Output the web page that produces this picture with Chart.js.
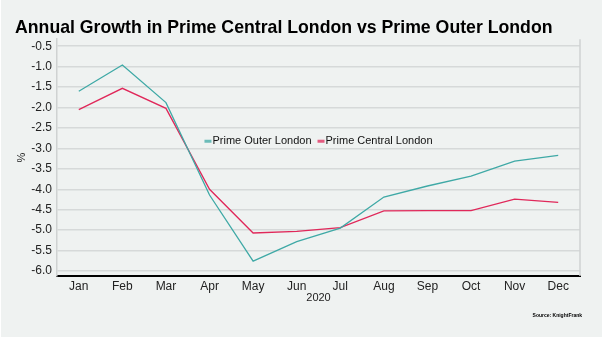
<!DOCTYPE html>
<html lang="en">
<head>
<meta charset="UTF-8">
<title>Annual Growth in Prime Central London vs Prime Outer London</title>
<script src="https://cdn.jsdelivr.net/npm/chart.js"></script>
<style>
  html, body { margin: 0; padding: 0; background: #fff; }
  #wrap { width: 602px; height: 339px; }
</style>
</head>
<body>
<div id="wrap"><canvas id="growthChart" width="602" height="339"></canvas></div>
<script>
// monthly annual growth, %
const months = ["Jan", "Feb", "Mar", "Apr", "May", "Jun", "Jul", "Aug", "Sep", "Oct", "Nov", "Dec"];
const outerLondon = [-1.60, -0.96, -1.88, -4.14, -5.76, -5.28, -4.95, -4.19, -3.92, -3.68, -3.31, -3.17];
const centralLondon = [-2.05, -1.53, -2.02, -4.00, -5.07, -5.03, -4.94, -4.53, -4.52, -4.52, -4.24, -4.32];
const yTicks = [-0.5, -1.0, -1.5, -2.0, -2.5, -3.0, -3.5, -4.0, -4.5, -5.0, -5.5, -6.0];

const FONT = "'Liberation Sans', Arial, sans-serif";

// panel background, legend in the middle of the plot, right border and source note
const extras = {
  id: "extras",
  beforeDraw(chart) {
    const ctx = chart.ctx;
    ctx.save();
    ctx.fillStyle = "#eff2f1";
    ctx.fillRect(1, 0, chart.width - 1, chart.height - 2);
    ctx.restore();
  },
  afterDraw(chart) {
    const ctx = chart.ctx;
    const a = chart.chartArea;
    ctx.save();

    ctx.strokeStyle = "#cfd2d2";
    ctx.lineWidth = 1.5;
    ctx.beginPath();
    ctx.moveTo(a.right, a.top);
    ctx.lineTo(a.right, a.bottom);
    ctx.stroke();

    ctx.font = "11px " + FONT;
    ctx.textBaseline = "middle";
    const items = chart.data.datasets.map(d => ({ label: d.label, color: d.borderColor }));
    const gap = 6, mark = 8;
    const widths = items.map(it => mark + ctx.measureText(it.label).width);
    const total = widths.reduce((s, w) => s + w, 0) + gap * (items.length - 1);
    let x = (a.left + a.right) / 2 - total / 2;
    const y = a.top + 102;
    items.forEach((it, i) => {
      ctx.strokeStyle = it.color;
      ctx.globalAlpha = 0.75;
      ctx.lineWidth = 3;
      ctx.beginPath();
      ctx.moveTo(x, y);
      ctx.lineTo(x + mark - 1, y);
      ctx.stroke();
      ctx.globalAlpha = 1;
      ctx.fillStyle = "#111";
      ctx.textAlign = "left";
      ctx.fillText(it.label, x + mark, y);
      x += widths[i] + gap;
    });

    ctx.font = "bold 5px " + FONT;
    ctx.fillStyle = "#000";
    ctx.textAlign = "right";
    ctx.fillText("Source: KnightFrank", 582, 316);
    ctx.restore();
  }
};

new Chart(document.getElementById("growthChart"), {
  type: "line",
  data: {
    labels: months,
    datasets: [
      {
        label: "Prime Outer London",
        data: outerLondon,
        borderColor: "#3fa9a6",
        borderWidth: 1.3,
        pointRadius: 0,
        tension: 0
      },
      {
        label: "Prime Central London",
        data: centralLondon,
        borderColor: "#e0285a",
        borderWidth: 1.3,
        pointRadius: 0,
        tension: 0
      }
    ]
  },
  options: {
    responsive: false,
    animation: false,
    layout: { padding: { left: 15, right: 22, top: 0, bottom: 34 } },
    plugins: {
      legend: { display: false },
      tooltip: { enabled: false },
      title: {
        display: true,
        text: "Annual Growth in Prime Central London vs Prime Outer London",
        align: "start",
        color: "#000",
        font: { family: FONT, size: 17.7, weight: "bold" },
        padding: { top: 17, bottom: 1 }
      }
    },
    scales: {
      x: {
        offset: true,
        grid: { display: false, drawTicks: false },
        border: { display: true, color: "#000", width: 2 },
        ticks: { color: "#222", font: { family: FONT, size: 12 }, padding: 3, maxRotation: 0 },
        title: { display: true, text: "2020", color: "#222", font: { family: FONT, size: 11 }, padding: 0 },
        afterFit(scale) { scale.height = 29; }
      },
      y: {
        min: -6.122,
        max: -0.329,
        grid: { color: "#d6d9d9", lineWidth: 1.5, drawTicks: false },
        border: { display: true, color: "#cfd2d2", width: 1.5 },
        ticks: {
          color: "#222",
          font: { family: FONT, size: 12 },
          padding: 5,
          callback: v => v.toFixed(1)
        },
        afterBuildTicks(scale) { scale.ticks = yTicks.map(v => ({ value: v })); },
        title: { display: true, text: "%", color: "#222", font: { family: FONT, size: 11 }, padding: 0 },
        afterFit(scale) { scale.width = 42; }
      }
    }
  },
  plugins: [extras]
});
</script>
</body>
</html>
